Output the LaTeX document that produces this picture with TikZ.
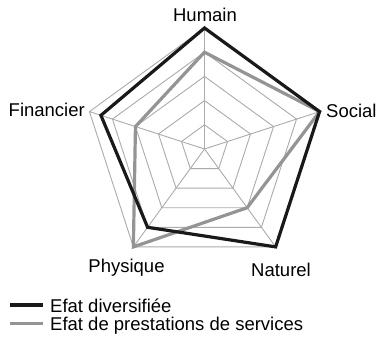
\documentclass[tikz,border=0pt]{standalone}
\usepackage{fontspec}
\setmainfont{Liberation Sans}
\usetikzlibrary{calc}
\begin{document}
\begin{tikzpicture}[x=1pt,y=1pt,
  gridline/.style={draw=black!33, line width=0.9pt, line join=miter},
  seriesA/.style={draw=black!90, line width=3.2pt, line join=miter},
  seriesB/.style={draw=black!42, line width=3.2pt, line join=miter},
  lbl/.style={font=\fontsize{18.5}{20}\selectfont, inner sep=0pt}]
\useasboundingbox (0,0) rectangle (380,343);
\coordinate (c) at (204.5,194);
\def\R{121}
% grid
\foreach \k in {1,...,5}{
  \draw[gridline] ($(c)+(90:\k*\R/5)$) -- ($(c)+(18:\k*\R/5)$) -- ($(c)+(-54:\k*\R/5)$) -- ($(c)+(-126:\k*\R/5)$) -- ($(c)+(162:\k*\R/5)$) -- cycle;
}
\foreach \a/\n in {90/h,18/s,-54/na,-126/p,162/f}{
  \coordinate (ax\n) at ($(c)+(\a:\R)$);
  \draw[gridline] (c) -- (ax\n);
}
% series
\draw[seriesB] ($(c)+(90:0.8*\R)$) -- ($(c)+(18:\R)$) -- ($(c)+(-54:0.6*\R)$) -- ($(c)+(-126:\R)$) -- ($(c)+(162:0.6*\R)$) -- cycle;
\draw[seriesA] ($(c)+(90:\R)$) -- ($(c)+(18:\R)$) -- ($(c)+(-54:\R)$) -- ($(c)+(-126:0.8*\R)$) -- ($(c)+(162:0.9*\R)$) -- cycle;
% labels
\node[lbl, anchor=base] (lh) at (205,321.3) {Humain};
\node[lbl, anchor=base west] (ls) at (326,225.5) {Social};
\node[lbl, anchor=base east] (lf) at (85,226.3) {Financier};
\node[lbl, anchor=base] (lp) at (126.5,70.3) {Physique};
\node[lbl, anchor=base] (ln) at (281,67) {Naturel};
% legend
\coordinate (la1) at (10,38);
\coordinate (la2) at (43,38);
\coordinate (lb1) at (10,19.5);
\coordinate (lb2) at (43,19.5);
\draw[seriesA] (la1) -- (la2);
\draw[seriesB] (lb1) -- (lb2);
\node[lbl, anchor=base west] (ta) at (50,30.7) {Efat diversifiée};
\node[lbl, anchor=base west] (tb) at (50,12.5) {Efat de prestations de services};
\end{tikzpicture}
\end{document}
